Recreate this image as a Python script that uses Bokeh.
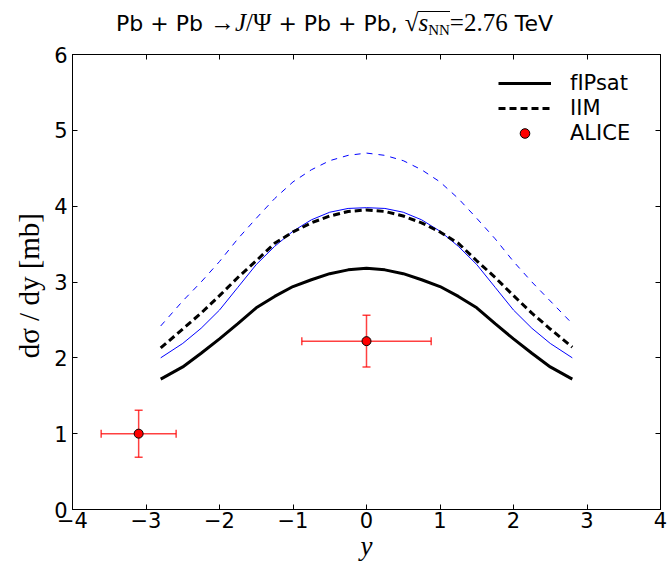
from bokeh.plotting import figure
from bokeh.models import (ColumnDataSource, Whisker, Legend, LegendItem, LinearAxis,
                          Range1d, CustomJSTickFormatter, FixedTicker, Div)
from bokeh.layouts import column
from bokeh.embed import file_html
from bokeh.resources import INLINE

# ---- data ----
y_grid = [-2.8, -2.5, -2.25, -2.0, -1.75, -1.5, -1.25, -1.0, -0.75, -0.5, -0.25, 0.0,
          0.25, 0.5, 0.75, 1.0, 1.25, 1.5, 1.75, 2.0, 2.25, 2.5, 2.8]
fipsat = [1.72, 1.88, 2.06, 2.25, 2.45, 2.66, 2.81, 2.94, 3.03, 3.11, 3.16, 3.18,
          3.16, 3.11, 3.03, 2.94, 2.81, 2.66, 2.45, 2.25, 2.06, 1.88, 1.72]
iim = [2.13, 2.38, 2.59, 2.82, 3.06, 3.28, 3.51, 3.66, 3.78, 3.87, 3.93, 3.95,
       3.93, 3.87, 3.78, 3.66, 3.51, 3.28, 3.06, 2.82, 2.59, 2.38, 2.14]
blue_solid = [2.00, 2.19, 2.39, 2.63, 2.93, 3.23, 3.47, 3.67, 3.82, 3.92, 3.97, 3.98,
              3.97, 3.92, 3.82, 3.67, 3.47, 3.23, 2.93, 2.63, 2.39, 2.19, 2.00]
blue_dashed = [2.42, 2.75, 3.00, 3.27, 3.57, 3.84, 4.10, 4.32, 4.48, 4.60, 4.67, 4.70,
               4.67, 4.60, 4.48, 4.32, 4.10, 3.84, 3.57, 3.27, 3.00, 2.75, 2.45]

alice_y = [-3.1, 0.0]
alice_val = [1.00, 2.22]
alice_xerr = [0.51, 0.88]
alice_yerr = [0.31, 0.34]

xticks = [-4, -3, -2, -1, 0, 1, 2, 3, 4]
yticks = [0, 1, 2, 3, 4, 5, 6]

W, H = 669, 563
TITLE_H = 38
BL, BR, BT, BB = 72, 9, 54 - TITLE_H, 51
PH = H - TITLE_H
FW, FH = W - BL - BR, PH - BT - BB

p = figure(width=W, height=PH, output_backend="svg", toolbar_location=None,
           x_range=Range1d(-4, 4), y_range=Range1d(0, 6),
           min_border_left=BL, min_border_right=BR, min_border_top=BT, min_border_bottom=BB)
p.title.visible = False
p.xgrid.visible = False
p.ygrid.visible = False
p.outline_line_color = "black"
p.outline_line_width = 1

minus_fmt = CustomJSTickFormatter(code="return tick < 0 ? '\u2212' + (-tick) : tick.toString();")

for ax in (p.xaxis[0], p.yaxis[0]):
    ax.major_tick_in = 5
    ax.major_tick_out = 0
    ax.minor_tick_line_color = None
    ax.axis_line_color = "black"
    ax.major_label_text_font = "DejaVu Sans"
    ax.major_label_text_font_size = "21px"
    ax.major_label_text_color = "black"
    ax.axis_label_text_color = "black"
    ax.formatter = minus_fmt
p.xaxis[0].ticker = FixedTicker(ticks=xticks)
p.yaxis[0].ticker = FixedTicker(ticks=yticks)
p.xaxis[0].major_label_standoff = 2
p.yaxis[0].major_label_standoff = 5
p.xaxis[0].axis_label = "y"
p.xaxis[0].axis_label_text_font = "Liberation Serif"
p.xaxis[0].axis_label_text_font_style = "italic"
p.xaxis[0].axis_label_text_font_size = "27px"
p.xaxis[0].axis_label_standoff = 0
p.yaxis[0].axis_label = "dσ / dy  [mb]"
p.yaxis[0].axis_label_text_font = "Liberation Serif"
p.yaxis[0].axis_label_text_font_style = "normal"
p.yaxis[0].axis_label_text_font_size = "29px"
p.yaxis[0].axis_label_standoff = 6

for loc, tk in (("above", xticks), ("right", yticks)):
    ax = LinearAxis(ticker=FixedTicker(ticks=tk), major_label_text_font_size="0px",
                    major_tick_in=5, major_tick_out=0, minor_tick_line_color=None,
                    axis_line_color="black", major_label_standoff=0)
    ax.major_label_text_color = None
    p.add_layout(ax, loc)

# curves
r_bd = p.line(y_grid, blue_dashed, line_color="blue", line_width=1, line_dash="6 6")
r_bs = p.line(y_grid, blue_solid, line_color="blue", line_width=1)
r_f = p.line(y_grid, fipsat, line_color="black", line_width=3)
r_i = p.line(y_grid, iim, line_color="black", line_width=3, line_dash="7 4")

# ALICE data
src = ColumnDataSource(dict(
    x=alice_y, y=alice_val,
    xl=[a - e for a, e in zip(alice_y, alice_xerr)],
    xu=[a + e for a, e in zip(alice_y, alice_xerr)],
    yl=[a - e for a, e in zip(alice_val, alice_yerr)],
    yu=[a + e for a, e in zip(alice_val, alice_yerr)],
))
wx = Whisker(source=src, base="y", lower="xl", upper="xu", dimension="width",
             line_color="red", line_width=1.5, line_alpha=0.75)
wy = Whisker(source=src, base="x", lower="yl", upper="yu", dimension="height",
             line_color="red", line_width=1.5, line_alpha=0.75)
for w in (wx, wy):
    for h in (w.upper_head, w.lower_head):
        h.size = 8; h.line_color = "red"; h.line_width = 1.5; h.line_alpha = 0.75
p.add_layout(wx)
p.add_layout(wy)
r_a = p.scatter("x", "y", source=src, size=9, fill_color="red", line_color="black", line_width=1)

legend = Legend(items=[LegendItem(label="fIPsat", renderers=[r_f]),
                       LegendItem(label="IIM", renderers=[r_i]),
                       LegendItem(label="ALICE", renderers=[r_a])],
                border_line_color=None, background_fill_alpha=0,
                label_text_font="DejaVu Sans", label_text_font_size="21px",
                label_text_color="black",
                glyph_width=53, glyph_height=24, spacing=1, label_standoff=19,
                margin=0, padding=0, label_height=24)
legend.location = (426, FH - 74 - (74 - 54))
p.add_layout(legend, "center")

SERIF = "font-family:'Liberation Serif',serif;font-size:25px"
title_html = (
    "Pb + Pb "
    f"<span style=\"{SERIF}\">\u2192<i>J</i>/\u03a8</span>"
    " + Pb + Pb, "
    f"<span style=\"{SERIF}\">\u221a</span>"
    f"<span style=\"{SERIF};border-top:1px solid black;line-height:22px;display:inline-block\">"
    "<i>s</i><span style=\"font-size:15px;vertical-align:-4px\">NN</span></span>"
    f"<span style=\"{SERIF}\">=2.76</span>"
    " TeV"
)
title = Div(text=title_html, width=W, height=TITLE_H, margin=0,
            styles={"font-family": "'DejaVu Sans', sans-serif", "font-size": "22px",
                    "color": "black", "text-align": "center", "padding-top": "5px",
                    "width": f"{W}px", "white-space": "nowrap"})

layout = column(title, p, spacing=0)
open("out.html", "w").write(file_html(layout, INLINE))
